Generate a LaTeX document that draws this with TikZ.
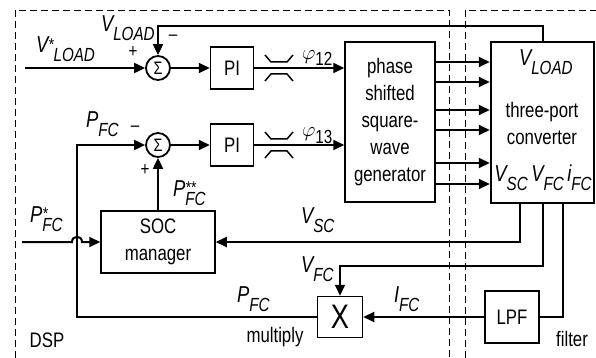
\documentclass[tikz,border=0pt]{standalone}
\usepackage{fontspec}
\setmainfont[FakeStretch=0.8]{Liberation Sans}
\usetikzlibrary{arrows.meta, positioning}

% signal labels: main letter with subscript (and superscript)
\newcommand{\sig}[2]{{\itshape\fontsize{23}{23}\selectfont #1\raisebox{-9pt}{\fontsize{19}{19}\selectfont #2}}}
\newcommand{\sigst}[3]{{\itshape\fontsize{23}{23}\selectfont #1\rlap{\raisebox{2.5pt}{\fontsize{17}{17}\selectfont #2}}\raisebox{-9pt}{\fontsize{19}{19}\selectfont #3}}}
\newcommand{\sigsq}[3]{{\itshape\fontsize{23}{23}\selectfont #1\raisebox{2.5pt}{\fontsize{17}{17}\selectfont #2}\raisebox{-9pt}{\fontsize{19}{19}\selectfont #3}}}
\newcommand{\phsig}[1]{{\fontsize{22}{22}\selectfont$\varphi$\raisebox{-6pt}{\fontsize{19}{19}\selectfont #1}}}

\begin{document}
\begin{tikzpicture}[x=1pt, y=-1pt, line width=2pt,
    font=\fontsize{21}{27}\selectfont,
    blk/.style={draw, line width=1.5pt, inner sep=0pt, align=center},
    sumb/.style={draw, circle, line width=1.8pt, minimum size=24pt, inner sep=0pt, font=\fontsize{18}{18}\selectfont},
    arr/.style={-{Triangle[length=11pt,width=10pt]}, line width=2pt},
    lbl/.style={anchor=base west, inner sep=0pt},
    sgn/.style={inner sep=0pt, font=\fontsize{19}{19}\selectfont},
    dsh/.style={line width=0.9pt, dash pattern=on 7pt off 4pt},
    pshift/.pic={
      \draw[line width=1.5pt] (-14,-13) -- (-8,-6) -- (8,-6) -- (14,-13);
      \draw[line width=1.5pt] (-14,13) -- (-8,6) -- (8,6) -- (14,13);
    }]
  \useasboundingbox (0,0) rectangle (596,358);

  % DSP and filter frames
  \draw[dsh] (15,358) -- (15,10) -- (449,10) -- (449,358);
  \draw[dsh] (465,358) -- (465,10) -- (596,10);

  % Blocks
  \node[sumb] (s1) at (158,68) {Σ};
  \node[sumb] (s2) at (158,145) {Σ};
  \node[blk, minimum width=43pt, minimum height=42pt] (pi1) at (232,68) {PI};
  \node[blk, minimum width=43pt, minimum height=42pt] (pi2) at (232,145) {PI};
  \node[blk, minimum width=90pt, minimum height=160pt] (gen) at (390,122) {phase\\shifted\\square-\\wave\\generator};
  \node[blk, line width=2.5pt, minimum width=103pt, minimum height=161pt] (conv) at (542.5,122.5) {};
  \node[blk, minimum width=114pt, minimum height=62pt] (soc) at (158,242) {SOC\\manager};
  \node[blk, minimum width=45pt, minimum height=41pt, font=\fontsize{34}{34}\selectfont] (mul) at (340,317) {X};
  \node[blk, minimum width=54pt, minimum height=52pt] (lpf) at (512,317) {LPF};
  \pic at (279,68) {pshift};
  \pic at (279,145) {pshift};

  % Converter texts
  \node[lbl] (cvload) at (518,66) {\sig{V}{LOAD}};
  \node[align=center] (cvname) at (542,123) {three-port\\converter};
  \node[anchor=base, inner sep=0pt] (cvports) at (543,182) {\sig{V}{SC}\,\sig{V}{FC}\,\sig{i}{FC}};

  % Connectors
  \coordinate (vin) at (25,68);
  \coordinate (pin) at (22,242);
  \coordinate (fb) at (77,145);
  \draw[arr] (vin) -- (s1);
  \draw[arr] (s1) -- (pi1);
  \draw[arr] (pi1) -- (gen.west |- pi1);
  \draw[arr] (s2) -- (pi2);
  \draw[arr] (pi2) -- (gen.west |- pi2);
  \foreach \y in {62,82,110,130,163,184}
    \draw[arr] (gen.east |- 0,\y) -- (conv.west |- 0,\y);
  \draw[arr] (conv.north) -- ++(0,-15) -| (s1.north);
  \draw[arr] (soc) -- (s2);
  \draw[arr] ([xshift=-22.5pt]conv.south) |- (soc.east);
  \draw[arr] (conv.south) -- ++(0,62) -| (mul.north);
  \draw ([xshift=20.5pt]conv.south) |- (lpf.east);
  \draw[arr] (lpf) -- (mul);
  \draw[arr] (mul.west) -| (fb) -- (s2);
  \draw[arr] (pin) -- (72,242) .. controls (72,235) and (82,235) .. (82,242) -- (soc.west);

  % Signal labels
  \node[lbl] (lvin) at (35,53) {\sigsq{V}{*}{LOAD}};
  \node[lbl] (lvfb) at (100,32) {\sig{V}{LOAD}};
  \node[sgn] (pl1) at (133,52) {+};
  \node[sgn] (mi1) at (173,38) {–};
  \node[lbl] (lpfa) at (85,128) {\sig{P}{FC}};
  \node[sgn] (mi2) at (135,129) {–};
  \node[sgn] (pl2) at (145,170) {+};
  \node[lbl] (lpss) at (172,196) {\sigst{P}{**}{FC}};
  \node[lbl] (lpst) at (29,222) {\sigst{P}{*}{FC}};
  \node[lbl] (lph1) at (301,60) {\phsig{12}};
  \node[lbl] (lph2) at (301,137) {\phsig{13}};
  \node[lbl] (lvsc) at (300,223) {\sig{V}{SC}};
  \node[lbl] (lvfc) at (300,272) {\sig{V}{FC}};
  \node[lbl] (lifc) at (393,302) {\sig{I}{FC}};
  \node[lbl] (lpfb) at (236,302) {\sig{P}{FC}};

  % Area names
  \node (dsp) at (47,340) {DSP};
  \node (mtxt) at (275,337) {multiply};
  \node (ftxt) at (572,339) {filter};
\end{tikzpicture}
\end{document}
